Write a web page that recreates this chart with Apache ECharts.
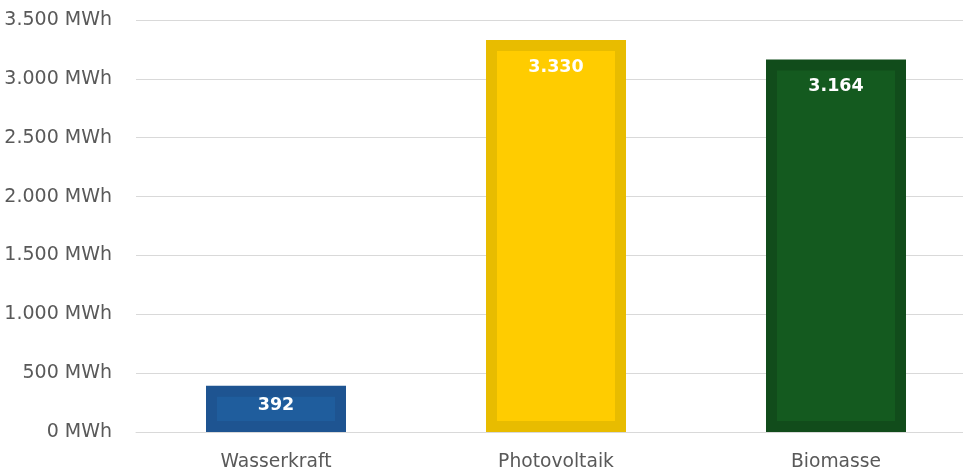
<!DOCTYPE html>
<html>
<head>
<meta charset="utf-8">
<script src="https://cdn.jsdelivr.net/npm/echarts@6/dist/echarts.min.js"></script>
<style>
  html, body { margin: 0; padding: 0; background: #fff; }
  #chart { width: 963px; height: 472px; }
</style>
</head>
<body>
<div id="chart"></div>
<script>
// Stromerzeugung nach Energieträger
const categories = ['Wasserkraft', 'Photovoltaik', 'Biomasse'];
const values = [392, 3330, 3164];
const fillColors = ['#1F5D9D', '#FFCC00', '#145A1F'];
const edgeColors = ['#1E5491', '#E8BC00', '#114C1B'];

const fmt = v => String(v).replace(/\B(?=(\d{3})+(?!\d))/g, '.');

const chart = echarts.init(document.getElementById('chart'));

// Bars with an inner border: outer rect in edge colour, inset rect in fill colour
function renderBar(params, api) {
  const idx = api.value(0);
  const val = api.value(1);
  const base = api.coord([idx, 0]);
  const top = api.coord([idx, val]);
  const w = api.size([1, 0])[0] * 0.5;
  const x = base[0] - w / 2;
  const h = base[1] - top[1];
  const b = 11;
  const labelOffset = Math.min(27, h / 2 - 3);
  return {
    type: 'group',
    children: [
      { type: 'rect', shape: { x: x, y: top[1], width: w, height: h },
        style: { fill: edgeColors[idx] } },
      { type: 'rect', shape: { x: x + b, y: top[1] + b, width: w - 2 * b, height: Math.max(0, h - 2 * b) },
        style: { fill: fillColors[idx] } },
      { type: 'text', x: base[0], y: top[1] + labelOffset,
        style: { text: fmt(val), fill: '#ffffff', font: 'bold 17.5px "DejaVu Sans", sans-serif',
                 align: 'center', verticalAlign: 'middle' } }
    ]
  };
}

chart.setOption({
  animation: false,
  grid: { left: 136, top: 20, right: -13, bottom: 40, containLabel: false, outerBoundsMode: 'none' },
  xAxis: {
    type: 'category',
    data: categories,
    axisLine: { show: true, lineStyle: { color: '#d9d9d9', width: 1 } },
    axisTick: { show: false },
    axisLabel: { color: '#595959', fontSize: 18.7, fontFamily: 'DejaVu Sans', margin: 21 }
  },
  yAxis: {
    type: 'value',
    min: 0,
    max: 3500,
    interval: 500,
    axisLine: { show: false },
    axisTick: { show: false },
    splitLine: { lineStyle: { color: '#d9d9d9', width: 1 } },
    axisLabel: { color: '#595959', fontSize: 19, fontFamily: 'DejaVu Sans', margin: 24,
                 formatter: v => fmt(v) + ' MWh' }
  },
  series: [{
    type: 'custom',
    renderItem: renderBar,
    encode: { x: 0, y: 1 },
    data: values.map((v, i) => [i, v])
  }]
});
</script>
</body>
</html>
